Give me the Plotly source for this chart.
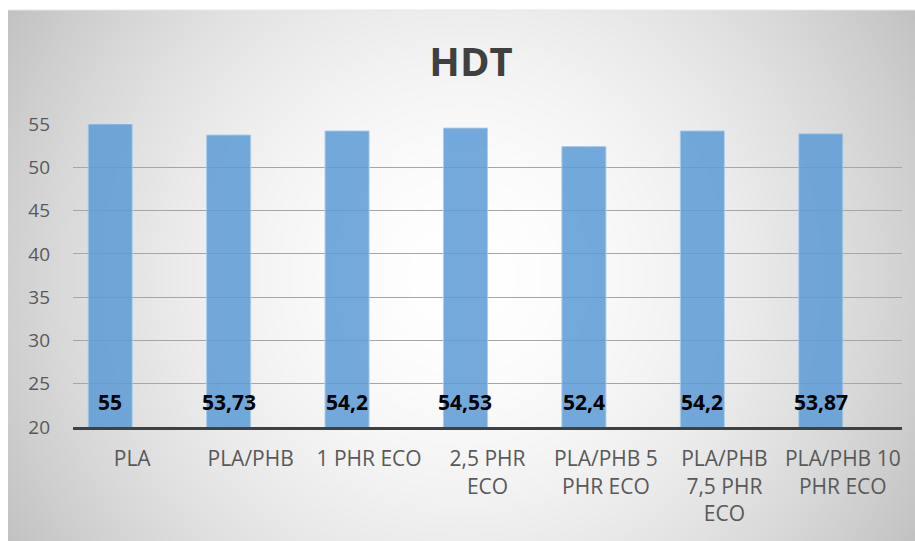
import base64
import struct
import zlib

import numpy as np
import plotly.graph_objects as go

# ---- data ----
categories = ["PLA", "PLA/PHB", "1 PHR ECO", "2,5 PHR ECO",
              "PLA/PHB 5 PHR ECO", "PLA/PHB 7,5 PHR ECO", "PLA/PHB 10 PHR ECO"]
tick_labels = ["PLA", "PLA/PHB", "1 PHR ECO", "2,5 PHR<br>ECO",
               "PLA/PHB 5<br>PHR ECO", "PLA/PHB<br>7,5 PHR<br>ECO", "PLA/PHB 10<br>PHR ECO"]
hdt_values = [55, 53.73, 54.2, 54.53, 52.4, 54.2, 53.87]
value_labels = [f"{v:g}".replace(".", ",") for v in hdt_values]
y_ticks = [20, 25, 30, 35, 40, 45, 50, 55]

# ---- page geometry (pixels) ----
W, H = 915, 541
PL, PR, PT, PB = 73, 902, 124, 427          # plot area edges
FX0, FY0 = 8, 10                            # chart frame top-left
BAR_W = 0.372                               # bar width in category units


def radial_png(w, h, cx, cy):
    """Grey radial gradient (white centre) encoded as a PNG data URI."""
    yy, xx = np.mgrid[0:h, 0:w].astype(float)
    r = np.sqrt((xx - cx) ** 2 + (yy - cy) ** 2) / 520.0
    v = 255 - 60 * r ** 1.8
    v = np.clip(v, 180, 255).astype(np.uint8)
    img = np.stack([v, v, v], axis=-1)
    raw = b"".join(b"\x00" + row.tobytes() for row in img)

    def chunk(tag, data):
        c = struct.pack(">I", len(data)) + tag + data
        return c + struct.pack(">I", zlib.crc32(tag + data) & 0xFFFFFFFF)

    png = b"\x89PNG\r\n\x1a\n"
    png += chunk(b"IHDR", struct.pack(">IIBBBBB", w, h, 8, 2, 0, 0, 0))
    png += chunk(b"IDAT", zlib.compress(raw, 9))
    png += chunk(b"IEND", b"")
    return "data:image/png;base64," + base64.b64encode(png).decode()


fw, fh = W - FX0, H - FY0
bg = radial_png(fw, fh, fw / 2, fh / 2)

pw, ph = PR - PL, PB - PT
fig = go.Figure()

fig.add_trace(go.Bar(
    x=categories,
    y=hdt_values,
    width=BAR_W,
    offset=-BAR_W,
    marker=dict(color="rgba(91,155,213,0.85)",
                line=dict(color="rgba(170,205,235,0.9)", width=1)),
    hoverinfo="x+y",
))

# value labels sitting at the base of each bar
for i, txt in enumerate(value_labels):
    fig.add_annotation(
        x=i - BAR_W / 2, y=y_ticks[0], xref="x", yref="y",
        text=f"<b>{txt}</b>", showarrow=False,
        yanchor="middle", yshift=25,
        font=dict(family="Open Sans", size=21, color="#000000"),
    )

fig.add_layout_image(
    source=bg, xref="paper", yref="paper",
    x=(FX0 - PL) / pw, y=(PB - FY0) / ph,
    sizex=fw / pw, sizey=fh / ph,
    xanchor="left", yanchor="top", sizing="stretch", layer="below",
)

# thin light edge along the top of the frame
fig.add_shape(type="line", xref="paper", yref="paper",
              x0=(FX0 - PL) / pw, x1=(W - PL) / pw,
              y0=(PB - FY0) / ph, y1=(PB - FY0) / ph,
              line=dict(color="#e6e6e6", width=1))

fig.update_layout(
    width=W, height=H,
    margin=dict(l=PL, r=W - PR, t=PT, b=H - PB, pad=0),
    paper_bgcolor="white",
    plot_bgcolor="rgba(0,0,0,0)",
    showlegend=False,
    title=dict(text="<b>HDT</b>", x=471 / W, xanchor="center",
               y=1 - 62 / H, yanchor="middle", yref="container", xref="container",
               font=dict(family="Open Sans", size=40, color="#404040")),
    font=dict(family="Open Sans", color="#595959"),
    xaxis=dict(
        type="category",
        tickmode="array", tickvals=categories, ticktext=tick_labels,
        showline=True, linecolor="#404040", linewidth=3,
        showgrid=False, ticks="", tickfont=dict(size=21, color="#595959"),
        ticklabelstandoff=11,
        range=[-0.5, len(categories) - 0.5],
    ),
    yaxis=dict(
        range=[20, 55], tickvals=y_ticks,
        showgrid=True, gridcolor="#a6a6a6", gridwidth=1,
        zeroline=False, showline=False, ticks="",
        tickfont=dict(size=19, color="#595959"),
        ticklabelstandoff=22,
    ),
)

fig.write_html("out.html")
